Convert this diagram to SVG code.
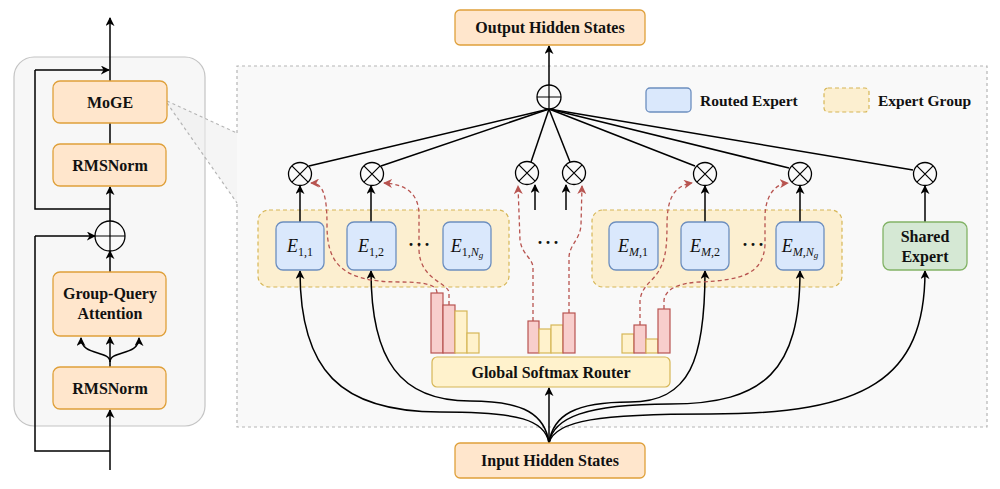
<svg xmlns="http://www.w3.org/2000/svg" width="1000" height="489" viewBox="0 0 1000 489">
<defs>
<marker id="ab" viewBox="0 0 10 10" markerWidth="9" markerHeight="9" refX="9" refY="5" orient="auto" markerUnits="userSpaceOnUse"><path d="M0,0 L10,5 L0,10 L3,5 z" fill="#000"/></marker>
<marker id="ar" viewBox="0 0 10 10" markerWidth="9" markerHeight="9" refX="9" refY="5" orient="auto" markerUnits="userSpaceOnUse"><path d="M0,0 L10,5 L0,10 L3,5 z" fill="#b85450"/></marker>
</defs>
<style>
.lbl{font-family:"Liberation Serif","Times New Roman",serif;font-weight:bold;font-size:16px;fill:#111;text-anchor:middle}
.leg{font-family:"Liberation Serif","Times New Roman",serif;font-weight:bold;font-size:15.5px;fill:#111}
.math{font-family:"Liberation Serif","Times New Roman",serif;font-size:18px;fill:#111;text-anchor:middle}
.orange{fill:#ffe6cc;stroke:#dfa03a;stroke-width:1.3}
.blue{fill:#dae8fc;stroke:#6c8ebf;stroke-width:1.3}
.green{fill:#d5e8d4;stroke:#82b366;stroke-width:1.3}
.grp{fill:#fcefd0;stroke:#d6b656;stroke-width:1.2;stroke-dasharray:4 3}
.rbar{fill:#f8cecc;stroke:#b85450;stroke-width:1.2}
.ybar{fill:#fff2cc;stroke:#d6b656;stroke-width:1.2}
.ln{fill:none;stroke:#000;stroke-width:1.5}
.arr{fill:none;stroke:#000;stroke-width:1.5;marker-end:url(#ab)}
.red{fill:none;stroke:#b85450;stroke-width:1.3;stroke-dasharray:4 3;marker-end:url(#ar)}
.op{fill:#fafafa;stroke:#000;stroke-width:1.3}
.opl{fill:none;stroke:#000;stroke-width:1.2}
.dots{font-family:"Liberation Serif","Times New Roman",serif;font-weight:bold;font-size:18px;fill:#111;text-anchor:middle;letter-spacing:2px}
</style>
<rect width="1000" height="489" fill="#fff"/>

<!-- panels -->
<g id="left-panel"><rect x="14" y="57" width="191" height="369" rx="20" fill="#f7f7f7" stroke="#c4c4c4" stroke-width="1.2"/></g>
<g id="moe-panel">
<polygon points="167,101 237,133 237,203 167,103" fill="#efefef" opacity="0.6"/>
<path d="M237,133 L237,66 L987,66 L987,427 L237,427 L237,203" fill="#f9f9f9" stroke="#b5b5b5" stroke-width="1.2" stroke-dasharray="3 3"/>
<line x1="167" y1="101" x2="237" y2="133" stroke="#b5b5b5" stroke-width="1.2" stroke-dasharray="3 3"/>
<line x1="167" y1="103" x2="237" y2="203" stroke="#b5b5b5" stroke-width="1.2" stroke-dasharray="3 3"/>
</g>

<!-- expert group containers -->
<g id="group-1"><rect class="grp" x="258" y="210" width="251" height="77" rx="11"/></g>
<g id="group-m"><rect class="grp" x="592" y="210" width="250" height="77" rx="11"/></g>

<g id="connectors">
<!-- left panel -->
<path class="arr" d="M110,470 L110,410"/>
<path class="ln" d="M110,451 L35,451 L35,236"/>
<path class="arr" d="M35,236 L95,236"/>
<path class="arr" d="M110,367 L110,337"/>
<path class="arr" d="M110,362 C110,350 81,356 81,338"/>
<path class="arr" d="M110,362 C110,350 139,356 139,338"/>
<path class="arr" d="M110,272 L110,251"/>
<path class="arr" d="M110,221 L110,187"/>
<path class="ln" d="M110,144 L110,123"/>
<path class="ln" d="M110,209 L35,209 L35,70"/>
<path class="arr" d="M35,70 L109,70"/>
<path class="arr" d="M110,81 L110,18"/>
<!-- top -->
<path class="arr" d="M549,85 L549,46"/>
<path class="ln" d="M549,109 L309,166"/>
<path class="ln" d="M549,109 L381,166"/>
<path class="ln" d="M549,109 L531,162"/>
<path class="ln" d="M549,109 L570,162"/>
<path class="ln" d="M549,109 L695,166"/>
<path class="ln" d="M549,109 L789,168"/>
<path class="ln" d="M549,109 L913,170"/>
<!-- experts to multipliers -->
<path class="arr" d="M300,222 L300,186"/>
<path class="arr" d="M371,222 L371,186"/>
<path class="arr" d="M535,210 L535,185"/>
<path class="arr" d="M566,210 L566,185"/>
<path class="arr" d="M705,222 L705,186"/>
<path class="arr" d="M800,222 L800,186"/>
<path class="arr" d="M925,222 L925,186"/>
<!-- input to experts -->
<path class="arr" d="M549,443 L549,388"/>
<path class="arr" d="M549,443 C545,420 520,412 440,412 C340,412 300,370 300,271"/>
<path class="arr" d="M549,443 C545,415 525,401 470,401 C400,401 371,360 371,271"/>
<path class="arr" d="M549,443 C553,415 575,402 630,402 C690,402 705,360 705,271"/>
<path class="arr" d="M549,443 C553,418 585,404 670,404 C765,404 800,370 800,271"/>
<path class="arr" d="M549,443 C555,420 600,414 710,414 C865,414 925,380 925,271"/>
<!-- routing -->
<path class="red" d="M437,293 C437,284 422,282 400,282 C340,282 327,262 327,225 C327,195 323,183 311,183"/>
<path class="red" d="M449,305 L449,293 C449,283 420,280 419,250 L419,215 C419,193 405,184 384,183"/>
<path class="red" d="M533,321 L533,268 C533,258 522,255 520,240 L518,186"/>
<path class="red" d="M569,313 L569,258 C569,245 580,240 581,225 L582,186"/>
<path class="red" d="M640,325 L640,300 C642,287 650,283 656,275 C665,263 667,250 667,225 C667,200 673,186 692,183"/>
<path class="red" d="M664,309 L664,300 C666,288 680,283 700,282 C740,280 763,275 765,245 L765,215 C766,195 775,184 788,183"/>
</g>

<!-- left panel nodes -->
<g id="moge"><rect class="orange" x="53" y="81" width="114" height="42" rx="7"/><text class="lbl" x="110" y="108">MoGE</text></g>
<g id="rmsnorm-top"><rect class="orange" x="53" y="144" width="113" height="42" rx="7"/><text class="lbl" x="110" y="171">RMSNorm</text></g>
<g id="add-left"><circle class="op" cx="110" cy="236" r="15"/><path class="opl" d="M95,236 L125,236 M110,221 L110,251"/></g>
<g id="gqa"><rect class="orange" x="53" y="272" width="113" height="64" rx="7"/><text class="lbl" x="110" y="299">Group-Query</text><text class="lbl" x="110" y="319">Attention</text></g>
<g id="rmsnorm-bottom"><rect class="orange" x="53" y="367" width="113" height="42" rx="7"/><text class="lbl" x="110" y="394">RMSNorm</text></g>

<!-- top / bottom -->
<g id="output"><rect class="orange" x="455" y="10" width="190" height="35" rx="5"/><text class="lbl" x="550" y="33">Output Hidden States</text></g>
<g id="input"><rect class="orange" x="455" y="443" width="190" height="35" rx="5"/><text class="lbl" x="550" y="466">Input Hidden States</text></g>
<g id="sum"><ellipse class="op" cx="549" cy="97" rx="12" ry="12"/><path class="opl" d="M537,97 L561,97 M549,85 L549,109"/></g>

<!-- legend -->
<g id="legend">
<rect class="blue" x="646" y="88" width="45" height="24" rx="4"/><text class="leg" x="700" y="106">Routed Expert</text>
<rect class="grp" x="824" y="88" width="45" height="24" rx="4"/><text class="leg" x="878" y="106">Expert Group</text>
</g>

<!-- multipliers -->
<g id="mults">
<g id="m1"><circle class="op" cx="300" cy="174" r="11.5"/><path class="opl" d="M291.9,165.9 L308.1,182.1 M308.1,165.9 L291.9,182.1"/></g>
<g id="m2"><circle class="op" cx="372" cy="174" r="11.5"/><path class="opl" d="M363.9,165.9 L380.1,182.1 M380.1,165.9 L363.9,182.1"/></g>
<g id="m3"><circle class="op" cx="527" cy="173" r="11.5"/><path class="opl" d="M518.9,164.9 L535.1,181.1 M535.1,164.9 L518.9,181.1"/></g>
<g id="m4"><circle class="op" cx="574" cy="173" r="11.5"/><path class="opl" d="M565.9,164.9 L582.1,181.1 M582.1,164.9 L565.9,181.1"/></g>
<g id="m5"><circle class="op" cx="705" cy="174" r="11.5"/><path class="opl" d="M696.9,165.9 L713.1,182.1 M713.1,165.9 L696.9,182.1"/></g>
<g id="m6"><circle class="op" cx="800" cy="174" r="11.5"/><path class="opl" d="M791.9,165.9 L808.1,182.1 M808.1,165.9 L791.9,182.1"/></g>
<g id="m7"><circle class="op" cx="925" cy="174" r="11.5"/><path class="opl" d="M916.9,165.9 L933.1,182.1 M933.1,165.9 L916.9,182.1"/></g>
</g>

<!-- experts -->
<g id="e11"><rect class="blue" x="276" y="222" width="48" height="48" rx="7"/><text class="math" x="300" y="252"><tspan font-style="italic">E</tspan><tspan font-size="12" dy="4">1,1</tspan></text></g>
<g id="e12"><rect class="blue" x="347" y="222" width="49" height="48" rx="7"/><text class="math" x="371" y="252"><tspan font-style="italic">E</tspan><tspan font-size="12" dy="4">1,2</tspan></text></g>
<text class="dots" x="420" y="251">···</text>
<g id="e1ng"><rect class="blue" x="443" y="222" width="48" height="48" rx="7"/><text class="math" x="467" y="252"><tspan font-style="italic">E</tspan><tspan font-size="12" dy="4">1,</tspan><tspan font-size="12" font-style="italic">N</tspan><tspan font-size="9" font-style="italic" dy="2">g</tspan></text></g>
<text class="dots" x="549" y="249">···</text>
<g id="em1"><rect class="blue" x="609" y="222" width="49" height="48" rx="7"/><text class="math" x="633" y="252"><tspan font-style="italic">E</tspan><tspan font-size="12" dy="4"><tspan font-style="italic">M</tspan>,1</tspan></text></g>
<g id="em2"><rect class="blue" x="681" y="222" width="48" height="48" rx="7"/><text class="math" x="705" y="252"><tspan font-style="italic">E</tspan><tspan font-size="12" dy="4"><tspan font-style="italic">M</tspan>,2</tspan></text></g>
<text class="dots" x="754" y="251">···</text>
<g id="emng"><rect class="blue" x="776" y="222" width="48" height="48" rx="7"/><text class="math" x="800" y="252"><tspan font-style="italic">E</tspan><tspan font-size="12" dy="4" font-style="italic">M</tspan><tspan font-size="12">,</tspan><tspan font-size="12" font-style="italic">N</tspan><tspan font-size="9" font-style="italic" dy="2">g</tspan></text></g>
<g id="shared"><rect class="green" x="883" y="222" width="84" height="48" rx="7"/><text class="lbl" x="925" y="242">Shared</text><text class="lbl" x="925" y="262">Expert</text></g>

<!-- bars -->
<g id="bars">
<rect class="rbar" x="431" y="293" width="12" height="60"/>
<rect class="rbar" x="443" y="305" width="12" height="48"/>
<rect class="ybar" x="455" y="311" width="12" height="42"/>
<rect class="ybar" x="467" y="333" width="12" height="20"/>
<rect class="rbar" x="528" y="321" width="11" height="32"/>
<rect class="ybar" x="539" y="329" width="12" height="24"/>
<rect class="ybar" x="551" y="325" width="12" height="28"/>
<rect class="rbar" x="563" y="313" width="12" height="40"/>
<rect class="ybar" x="622" y="334" width="12" height="19"/>
<rect class="rbar" x="634" y="325" width="12" height="28"/>
<rect class="ybar" x="646" y="339" width="12" height="14"/>
<rect class="rbar" x="658" y="309" width="12" height="44"/>
</g>
<g id="router"><rect x="432" y="357" width="238" height="30" rx="5" fill="#fff2cc" stroke="#d6b656" stroke-width="1.2"/><text class="lbl" x="551" y="378">Global Softmax Router</text></g>
</svg>
